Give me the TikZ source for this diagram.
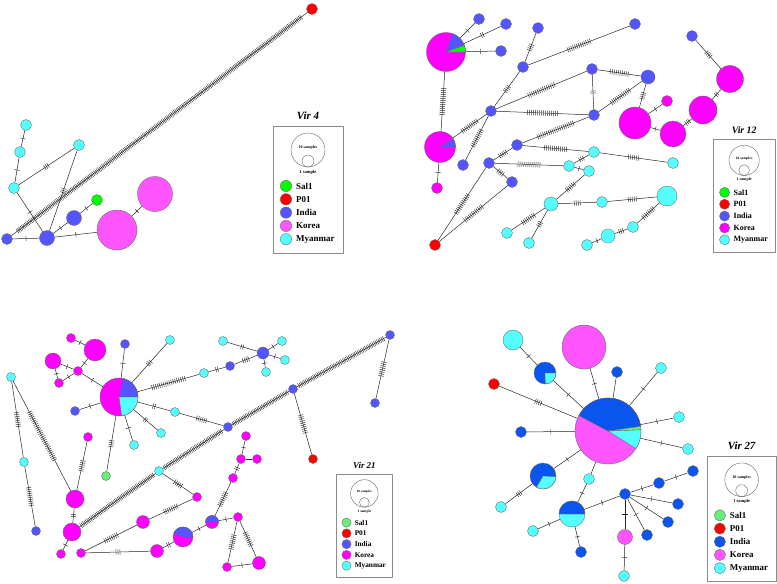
\documentclass[tikz,border=0pt]{standalone}
\usepackage{fontspec}
\setmainfont{Liberation Serif}
\usetikzlibrary{decorations.markings}

\definecolor{salA}{HTML}{00FF00}
\definecolor{salB}{HTML}{66EE77}
\definecolor{redP}{HTML}{FF0000}
\definecolor{indA}{HTML}{5555FF}
\definecolor{indB}{HTML}{0A55EE}
\definecolor{korA}{HTML}{FF00FF}
\definecolor{korB}{HTML}{FF55FF}
\definecolor{myaC}{HTML}{55FFFF}

\tikzset{
  hap/.style={circle,draw=black!60,line width=0.35pt,inner sep=0pt,minimum size=11pt},
  link/.style={draw=black!85,line width=0.5pt},
  pics/ticks/.style={code={
    \foreach \k in {1,...,#1}
      \draw[line width=0.45pt] ({2*\k-#1-1},-2.6) -- ++(0,5.2);}},
  dense/.style={postaction={decorate,decoration={markings,
    mark=between positions 0.02 and 0.98 step 1.7pt with {\draw[line width=0.45pt] (0,-2.6) -- (0,2.6);}}}}
}

% one coloured sector of a haplotype pie (angles as seen on the page)
\newcommand\hapslice[5]{%
  \filldraw[fill=#5,draw=black!60,line width=0.35pt] (#1.center) -- ++({-(#3)}:#2)
    arc[start angle={-(#3)},end angle={-(#4)},radius=#2] -- cycle;}

% legend box: x, y, scale, name, Sal1 colour, India colour, Korea colour, title
\newcommand\hapkey[8]{%
  \begin{scope}[shift={(#1,#2)},scale=#3,transform shape]
    \draw[black!45,line width=0.6pt] (0,0) rectangle (70,127);
    \node[font=\bfseries\itshape\fontsize{11}{11}\selectfont] (#4-t) at (35,-10) {#8};
    \draw[black!60,line width=0.4pt] (35,24) circle[radius=17];
    \draw[black!60,line width=0.4pt] (35,35) circle[radius=6];
    \node[font=\bfseries\fontsize{4}{4}\selectfont] (#4-a) at (35,22) {10 samples};
    \node[font=\bfseries\fontsize{4.5}{5}\selectfont] (#4-b) at (35,46) {1 sample};
    \foreach \col/\lab [count=\i] in {#5/Sal1,redP/P01,#6/India,#7/Korea,myaC/Myanmar}{
      \node[hap,fill=\col,minimum size=11.4pt] (#4-\i) at (13,{46.7+13.3*\i}) {};
      \node[anchor=west,font=\bfseries\fontsize{9}{9}\selectfont,inner sep=0pt] (#4-l\i) at (23,{46.7+13.3*\i}) {\lab};
    }
  \end{scope}}

\begin{document}
\begin{tikzpicture}[x=1pt,y=-1pt]
\useasboundingbox (0,0) rectangle (777,584);

% ---------------- Vir 4
\node[hap,fill=myaC] (a1) at (26,125) {};
\node[hap,fill=myaC] (a2) at (20,152) {};
\node[hap,fill=myaC] (a3) at (14,188) {};
\node[hap,fill=myaC] (a4) at (79,145) {};
\node[hap,fill=indA] (a5) at (7,239) {};
\node[hap,fill=indA,minimum size=15pt] (a6) at (47,238) {};
\node[hap,fill=indA,minimum size=15pt] (a7) at (74,218) {};
\node[hap,fill=salA] (a8) at (97,200) {};
\node[hap,fill=korB,minimum size=40pt] (a9) at (117,230) {};
\node[hap,fill=korB,minimum size=35pt] (a10) at (155,194) {};
\node[hap,fill=redP] (a11) at (312,9) {};

\draw[link] (a1) -- pic[midway,sloped]{ticks=1} (a2);
\draw[link] (a2) -- pic[midway,sloped]{ticks=1} (a3);
\draw[link] (a3) -- pic[midway,sloped]{ticks=3} (a4);
\draw[link] (a4) -- pic[midway,sloped]{ticks=3} (a6);
\draw[link] (a3) -- pic[midway,sloped]{ticks=1} (a6);
\draw[link] (a5) -- pic[midway,sloped]{ticks=1} (a6);
\draw[link,dense] (a5) -- (a11);
\draw[link] (a6) -- pic[midway,sloped]{ticks=1} (a7);
\draw[link] (a7) -- pic[midway,sloped]{ticks=1} (a8);
\draw[link] (a6) -- pic[midway,sloped]{ticks=1} (a9);
\draw[link] (a9) -- pic[midway,sloped]{ticks=1} (a10);

\hapkey{273}{126}{1}{k4}{salA}{indA}{korB}{Vir 4}

% ---------------- Vir 12
\node[hap,fill=korA,minimum size=39pt] (b1) at (446,52) {};
\hapslice{b1}{19.5}{20}{70}{indA}
\hapslice{b1}{19.5}{0}{20}{salA}
\node[hap,fill=indA] (b2) at (479,19) {};
\node[hap,fill=indA] (b3) at (506,24) {};
\node[hap,fill=indA] (b4) at (501,51) {};
\node[hap,fill=korA,minimum size=31pt] (b5) at (440,147) {};
\hapslice{b5}{15.5}{0}{32}{indA}
\node[hap,fill=korA] (b6) at (437,188) {};
\node[hap,fill=indA] (b7) at (491,111) {};
\node[hap,fill=indA] (b8) at (523,67) {};
\node[hap,fill=indA] (b9) at (538,28) {};
\node[hap,fill=indA] (b10) at (635,24) {};
\node[hap,fill=indA] (b11) at (592,69) {};
\node[hap,fill=indA,minimum size=14pt] (b12) at (648,77) {};
\node[hap,fill=indA] (b13) at (594,115) {};
\node[hap,fill=indA] (b14) at (463,165) {};
\node[hap,fill=indA] (b15) at (517,145) {};
\node[hap,fill=indA] (b16) at (489,163) {};
\node[hap,fill=indA] (b17) at (512,182) {};
\node[hap,fill=redP] (b18) at (435,245) {};
\node[hap,fill=myaC] (b19) at (594,152) {};
\node[hap,fill=myaC] (b20) at (673,163) {};
\node[hap,fill=myaC] (b21) at (569,166) {};
\node[hap,fill=myaC] (b22) at (589,171) {};
\node[hap,fill=myaC,minimum size=14pt] (b23) at (551,204) {};
\node[hap,fill=myaC] (b24) at (602,202) {};
\node[hap,fill=myaC,minimum size=20pt] (b25) at (667,196) {};
\node[hap,fill=myaC] (b26) at (507,233) {};
\node[hap,fill=myaC] (b27) at (529,243) {};
\node[hap,fill=myaC] (b28) at (633,227) {};
\node[hap,fill=myaC,minimum size=14pt] (b29) at (608,236) {};
\node[hap,fill=myaC] (b30) at (587,245) {};
\node[hap,fill=indA] (b31) at (692,36) {};
\node[hap,fill=korA,minimum size=27pt] (b32) at (730,79) {};
\node[hap,fill=korA,minimum size=28pt] (b33) at (703,110) {};
\node[hap,fill=korA,minimum size=26pt] (b34) at (673,134) {};
\node[hap,fill=korA,minimum size=32pt] (b35) at (635,123) {};
\node[hap,fill=korA] (b36) at (667,101) {};

\draw[link] (b1) -- pic[midway,sloped]{ticks=1} (b2);
\draw[link] (b1) -- pic[midway,sloped]{ticks=2} (b3);
\draw[link] (b1) -- pic[midway,sloped]{ticks=1} (b4);
\draw[link] (b1) -- pic[midway,sloped]{ticks=14} (b5);
\draw[link] (b5) -- pic[midway,sloped]{ticks=1} (b6);
\draw[link] (b7) -- pic[midway,sloped]{ticks=10} (b5);
\draw[link] (b7) -- pic[midway,sloped]{ticks=4} (b8);
\draw[link] (b8) -- pic[midway,sloped]{ticks=4} (b9);
\draw[link] (b8) -- pic[midway,sloped]{ticks=13} (b10);
\draw[link] (b7) -- pic[midway,sloped]{ticks=15} (b11);
\draw[link] (b7) -- pic[midway,sloped]{ticks=16} (b13);
\draw[link] (b11) -- pic[midway,sloped]{ticks=2} (b13);
\draw[link] (b11) -- pic[midway,sloped]{ticks=10} (b12);
\draw[link] (b13) -- pic[midway,sloped]{ticks=12} (b12);
\draw[link] (b7) -- pic[midway,sloped]{ticks=10} (b14);
\draw[link] (b13) -- pic[midway,sloped]{ticks=20} (b15);
\draw[link] (b15) -- pic[midway,sloped]{ticks=5} (b16);
\draw[link] (b16) -- pic[midway,sloped]{ticks=4} (b17);
\draw[link] (b16) -- pic[midway,sloped]{ticks=12} (b18);
\draw[link] (b17) -- pic[midway,sloped]{ticks=12} (b18);
\draw[link] (b15) -- pic[midway,sloped]{ticks=12} (b19);
\draw[link] (b19) -- pic[midway,sloped]{ticks=6} (b20);
\draw[link] (b16) -- pic[midway,sloped]{ticks=12} (b21);
\draw[link] (b21) -- pic[midway,sloped]{ticks=3} (b19);
\draw[link] (b21) -- pic[midway,sloped]{ticks=1} (b22);
\draw[link] (b22) -- pic[midway,sloped]{ticks=6} (b23);
\draw[link] (b23) -- pic[midway,sloped]{ticks=4} (b24);
\draw[link] (b24) -- pic[midway,sloped]{ticks=5} (b25);
\draw[link] (b23) -- pic[midway,sloped]{ticks=8} (b26);
\draw[link] (b23) -- pic[midway,sloped]{ticks=3} (b27);
\draw[link] (b25) -- pic[midway,sloped]{ticks=8} (b28);
\draw[link] (b28) -- pic[midway,sloped]{ticks=3} (b29);
\draw[link] (b29) -- pic[midway,sloped]{ticks=1} (b30);
\draw[link] (b31) -- pic[midway,sloped]{ticks=4} (b32);
\draw[link] (b32) -- pic[midway,sloped]{ticks=2} (b33);
\draw[link] (b33) -- pic[midway,sloped]{ticks=3} (b34);
\draw[link] (b35) -- pic[midway,sloped]{ticks=1} (b34);
\draw[link] (b35) -- pic[midway,sloped]{ticks=4} (b12);
\draw[link] (b35) -- pic[midway,sloped]{ticks=1} (b36);

\hapkey{713}{139}{0.89}{k12}{salA}{indA}{korA}{Vir 12}

% ---------------- Vir 21
\node[hap,fill=korA,minimum size=38pt] (c1) at (119,397) {};
\hapslice{c1}{19}{0}{76}{indA}
\hapslice{c1}{19}{-82}{0}{myaC}
\node[hap,fill=korA,minimum size=22pt] (c2) at (95,350) {};
\node[hap,fill=korA,minimum size=16pt] (c3) at (53,361) {};
\node[hap,fill=korA,minimum size=9pt] (c4) at (71,338) {};
\node[hap,fill=korA,minimum size=9pt] (c5) at (78,371) {};
\node[hap,fill=korA,minimum size=9pt] (c6) at (59,383) {};
\node[hap,fill=indA,minimum size=9pt] (c7) at (125,344) {};
\node[hap,fill=myaC,minimum size=9pt] (c8) at (170,340) {};
\node[hap,fill=indA,minimum size=9pt] (c9) at (75,411) {};
\node[hap,fill=myaC,minimum size=9pt] (c10) at (175,412) {};
\node[hap,fill=myaC,minimum size=9pt] (c11) at (161,433) {};
\node[hap,fill=myaC,minimum size=9pt] (c12) at (134,445) {};
\node[hap,fill=salB,minimum size=9pt] (c13) at (106,476) {};
\node[hap,fill=myaC,minimum size=9pt] (c14) at (204,373) {};
\node[hap,fill=indA,minimum size=9pt] (c15) at (230,366) {};
\node[hap,fill=indA,minimum size=12pt] (c16) at (263,353) {};
\node[hap,fill=myaC,minimum size=9pt] (c17) at (223,341) {};
\node[hap,fill=myaC,minimum size=9pt] (c18) at (282,341) {};
\node[hap,fill=myaC,minimum size=9pt] (c19) at (285,360) {};
\node[hap,fill=myaC,minimum size=9pt] (c20) at (266,372) {};
\node[hap,fill=indA,minimum size=9pt] (c21) at (228,427) {};
\node[hap,fill=myaC,minimum size=9pt] (c22) at (159,471) {};
\node[hap,fill=indA,minimum size=9pt] (c23) at (293,389) {};
\node[hap,fill=indA,minimum size=9pt] (c24) at (390,335) {};
\node[hap,fill=indA,minimum size=9pt] (c25) at (375,403) {};
\node[hap,fill=redP,minimum size=9pt] (c26) at (313,459) {};
\node[hap,fill=myaC,minimum size=9pt] (c27) at (11,377) {};
\node[hap,fill=myaC,minimum size=9pt] (c28) at (24,462) {};
\node[hap,fill=indA,minimum size=9pt] (c29) at (36,531) {};
\node[hap,fill=korA,minimum size=18pt] (c30) at (75,499) {};
\node[hap,fill=korA,minimum size=18pt] (c31) at (72,532) {};
\node[hap,fill=korA,minimum size=9pt] (c32) at (88,437) {};
\node[hap,fill=korA,minimum size=9pt] (c33) at (61,554) {};
\node[hap,fill=korA,minimum size=9pt] (c34) at (81,553) {};
\node[hap,fill=korA,minimum size=13pt] (c35) at (143,522) {};
\node[hap,fill=korA,minimum size=13pt] (c36) at (157,551) {};
\node[hap,fill=korA,minimum size=20pt] (c37) at (183,537) {};
\hapslice{c37}{10}{0}{155}{indA}
\node[hap,fill=korA,minimum size=13pt] (c38) at (212,522) {};
\hapslice{c38}{6.5}{0}{180}{indA}
\node[hap,fill=korA,minimum size=9pt] (c39) at (197,497) {};
\node[hap,fill=korA,minimum size=9pt] (c40) at (238,517) {};
\node[hap,fill=korA,minimum size=9pt] (c41) at (233,478) {};
\node[hap,fill=korA,minimum size=9pt] (c42) at (241,459) {};
\node[hap,fill=korA,minimum size=9pt] (c43) at (257,459) {};
\node[hap,fill=korA,minimum size=9pt] (c44) at (246,436) {};
\node[hap,fill=korA,minimum size=9pt] (c45) at (227,567) {};
\node[hap,fill=korA,minimum size=13pt] (c46) at (259,563) {};

\draw[link] (c4) -- pic[midway,sloped]{ticks=1} (c2);
\draw[link] (c5) -- pic[midway,sloped]{ticks=1} (c2);
\draw[link] (c5) -- pic[midway,sloped]{ticks=1} (c3);
\draw[link] (c3) -- pic[midway,sloped]{ticks=1} (c6);
\draw[link] (c6) -- pic[midway,sloped]{ticks=1} (c5);
\draw[link] (c5) -- pic[midway,sloped]{ticks=1} (c1);
\draw[link] (c1) -- pic[midway,sloped]{ticks=1} (c7);
\draw[link] (c1) -- pic[midway,sloped]{ticks=3} (c8);
\draw[link] (c1) -- pic[midway,sloped]{ticks=1} (c9);
\draw[link] (c1) -- pic[midway,sloped]{ticks=2} (c10);
\draw[link] (c1) -- pic[midway,sloped]{ticks=2} (c11);
\draw[link] (c1) -- pic[midway,sloped]{ticks=1} (c12);
\draw[link] (c1) -- pic[midway,sloped]{ticks=4} (c13);
\draw[link] (c1) -- pic[midway,sloped]{ticks=18} (c14);
\draw[link] (c14) -- pic[midway,sloped]{ticks=2} (c15);
\draw[link] (c15) -- pic[midway,sloped]{ticks=4} (c16);
\draw[link] (c16) -- pic[midway,sloped]{ticks=2} (c17);
\draw[link] (c16) -- pic[midway,sloped]{ticks=1} (c18);
\draw[link] (c16) -- pic[midway,sloped]{ticks=1} (c19);
\draw[link] (c16) -- pic[midway,sloped]{ticks=1} (c20);
\draw[link] (c10) -- pic[midway,sloped]{ticks=6} (c21);
\draw[link,dense] (c21) -- (c23);
\draw[link,dense] (c23) -- (c24);
\draw[link,dense] (c22) -- (c21);
\draw[link,dense] (c31) -- (c22);
\draw[link] (c23) -- pic[midway,sloped]{ticks=10} (c26);
\draw[link] (c24) -- pic[midway,sloped]{ticks=8} (c25);
\draw[link] (c27) -- pic[midway,sloped]{ticks=8} (c28);
\draw[link] (c28) -- pic[midway,sloped]{ticks=10} (c29);
\draw[link] (c27) -- pic[midway,sloped]{ticks=28} (c30);
\draw[link] (c30) -- pic[midway,sloped]{ticks=2} (c31);
\draw[link] (c30) -- pic[midway,sloped]{ticks=6} (c32);
\draw[link] (c31) -- pic[midway,sloped]{ticks=1} (c33);
\draw[link] (c22) -- pic[midway,sloped]{ticks=5} (c39);
\draw[link] (c39) -- pic[midway,sloped]{ticks=8} (c35);
\draw[link] (c35) -- pic[midway,sloped]{ticks=8} (c34);
\draw[link] (c34) -- pic[midway,sloped]{ticks=3} (c36);
\draw[link] (c36) -- pic[midway,sloped]{ticks=2} (c37);
\draw[link] (c37) -- pic[midway,sloped]{ticks=1} (c38);
\draw[link] (c38) -- pic[midway,sloped]{ticks=1} (c40);
\draw[link] (c38) -- pic[midway,sloped]{ticks=8} (c41);
\draw[link] (c41) -- pic[midway,sloped]{ticks=2} (c42);
\draw[link] (c42) -- (c43);
\draw[link] (c42) -- pic[midway,sloped]{ticks=1} (c44);
\draw[link] (c40) -- pic[midway,sloped]{ticks=8} (c45);
\draw[link] (c40) -- pic[midway,sloped]{ticks=8} (c46);
\draw[link] (c45) -- pic[midway,sloped]{ticks=1} (c46);

\hapkey{336}{474}{0.81}{k21}{salB}{indA}{korA}{Vir 21}

% ---------------- Vir 27
\node[hap,fill=korB,minimum size=66pt] (d1) at (608,431) {};
\hapslice{d1}{33}{8}{152}{indB}
\hapslice{d1}{33}{2}{8}{salB}
\hapslice{d1}{33}{-32}{2}{myaC}
\node[hap,fill=korB,minimum size=44pt] (d2) at (584,347) {};
\node[hap,fill=myaC,minimum size=20pt] (d3) at (513,340) {};
\node[hap,fill=indB,minimum size=22pt] (d4) at (545,373) {};
\hapslice{d4}{11}{-88}{0}{myaC}
\node[hap,fill=indB] (d5) at (617,372) {};
\node[hap,fill=myaC] (d6) at (661,368) {};
\node[hap,fill=redP] (d7) at (494,384) {};
\node[hap,fill=myaC] (d8) at (679,417) {};
\node[hap,fill=indB] (d9) at (521,432) {};
\node[hap,fill=myaC] (d10) at (688,449) {};
\node[hap,fill=indB,minimum size=26pt] (d11) at (543,476) {};
\hapslice{d11}{13}{-120}{-3}{myaC}
\node[hap,fill=myaC] (d12) at (501,507) {};
\node[hap,fill=myaC] (d13) at (589,479) {};
\node[hap,fill=myaC,minimum size=26pt] (d14) at (572,514) {};
\hapslice{d14}{13}{0}{180}{indB}
\node[hap,fill=myaC] (d15) at (533,531) {};
\node[hap,fill=indB] (d16) at (581,552) {};
\node[hap,fill=indB] (d17) at (625,494) {};
\node[hap,fill=indB] (d18) at (659,483) {};
\node[hap,fill=indB] (d19) at (693,471) {};
\node[hap,fill=indB] (d20) at (678,504) {};
\node[hap,fill=indB] (d21) at (668,522) {};
\node[hap,fill=indB] (d22) at (647,535) {};
\node[hap,fill=korB,minimum size=15pt] (d23) at (625,537) {};
\node[hap,fill=myaC] (d24) at (624,576) {};

\draw[link] (d2) -- pic[midway,sloped]{ticks=1} (d1);
\draw[link] (d3) -- pic[midway,sloped]{ticks=1} (d4);
\draw[link] (d4) -- pic[midway,sloped]{ticks=1} (d1);
\draw[link] (d5) -- (d1);
\draw[link] (d6) -- pic[midway,sloped]{ticks=1} (d1);
\draw[link] (d7) -- pic[midway,sloped]{ticks=4} (d1);
\draw[link] (d8) -- pic[midway,sloped]{ticks=1} (d1);
\draw[link] (d9) -- pic[midway,sloped]{ticks=1} (d1);
\draw[link] (d10) -- pic[midway,sloped]{ticks=1} (d1);
\draw[link] (d11) -- pic[midway,sloped]{ticks=1} (d1);
\draw[link] (d11) -- pic[midway,sloped]{ticks=3} (d12);
\draw[link] (d1) -- (d13);
\draw[link] (d13) -- pic[midway,sloped]{ticks=1} (d14);
\draw[link] (d14) -- pic[midway,sloped]{ticks=1} (d15);
\draw[link] (d14) -- pic[midway,sloped]{ticks=1} (d16);
\draw[link] (d14) -- pic[midway,sloped]{ticks=1} (d17);
\draw[link] (d17) -- pic[midway,sloped]{ticks=1} (d18);
\draw[link] (d18) -- pic[midway,sloped]{ticks=1} (d19);
\draw[link] (d17) -- pic[midway,sloped]{ticks=1} (d20);
\draw[link] (d17) -- pic[midway,sloped]{ticks=1} (d21);
\draw[link] (d17) -- pic[midway,sloped]{ticks=1} (d22);
\draw[link] (d17) -- pic[midway,sloped]{ticks=1} (d23);
\draw[link] (d23) -- pic[midway,sloped]{ticks=1} (d24);

\hapkey{707}{456}{0.99}{k27}{salB}{indB}{korB}{Vir 27}

\end{tikzpicture}
\end{document}
